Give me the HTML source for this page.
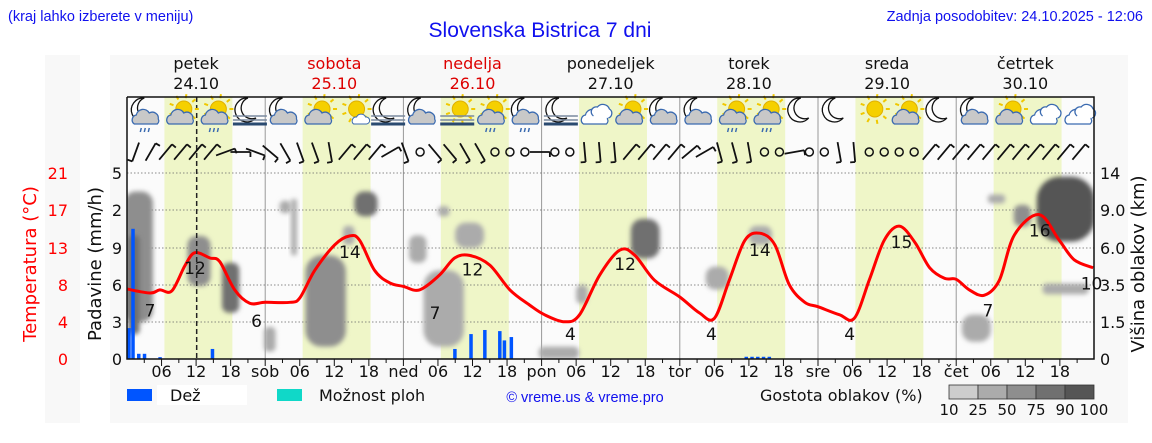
<!DOCTYPE html>
<html><head><meta charset="utf-8"><style>
body{margin:0;width:1152px;height:443px;background:#fff;overflow:hidden;font-family:"DejaVu Sans","Liberation Sans",sans-serif}
svg{position:absolute;left:0;top:0}
</style></head><body>
<svg id="c" width="1152" height="443" viewBox="0 0 1152 443">
<defs>
<filter id="bl" x="-50%" y="-50%" width="200%" height="200%"><feGaussianBlur stdDeviation="2.5"/></filter>
<clipPath id="pc"><rect x="127" y="150" width="967" height="209"/></clipPath>
</defs>
<rect x="45" y="55" width="35" height="368" fill="#f8f8f8"/>
<rect x="110" y="55" width="1018" height="368" fill="#f8f8f8"/>
<text x="8" y="21" font-family="Liberation Sans" font-size="14.5" fill="#1010ee">(kraj lahko izberete v meniju)</text>
<text x="540" y="37" text-anchor="middle" font-family="Liberation Sans" font-size="21" fill="#1010ee">Slovenska Bistrica 7 dni</text>
<text x="1143" y="21" text-anchor="end" font-family="Liberation Sans" font-size="14.5" fill="#1010ee">Zadnja posodobitev: 24.10.2025 - 12:06</text>
<rect x="127" y="97" width="967" height="262" fill="#fbfbfb"/>
<g id="bands"></g><g id="grid"></g><g id="clouds" clip-path="url(#pc)"></g><g id="rain"></g><g id="temp"></g><g id="icons"></g><g id="wind"></g><g id="axes"></g>
</svg>
<script>
const dayNames=["petek","sobota","nedelja","ponedeljek","torek","sreda","četrtek"];
const dayDates=["24.10","25.10","26.10","27.10","28.10","29.10","30.10"];
const dayAbbr=["","sob","ned","pon","tor","sre","čet"];
const tempHours=[0,4,5.7,7.8,10.1,11.8,14.4,16.1,18.7,21.3,24,28.3,30,32.6,36.1,38.7,40.4,43,45.6,48,50.8,54.3,56.9,59.5,63,66.5,69.9,72.5,76,78.6,82.1,85.6,88.2,91.6,96,99.4,102,104.6,107.3,109.9,112.5,115,117.7,120,123.7,126.3,128.9,131.5,134.1,136.8,139.4,142,144,146.3,148.9,151.5,154.1,158.4,161.9,164.5,167.8];
const tempValues=[7.9,7.45,7.8,7.7,10.6,12.0,11.4,11.0,7.8,6.3,6.4,6.4,6.9,10.0,12.9,13.9,13.4,10.0,8.6,8.2,7.8,9.5,11.4,11.7,10.6,7.8,6.1,5.0,4.2,5.0,9.5,12.3,11.7,8.9,7.0,5.2,4.6,8.9,13.4,14.2,12.9,8.4,6.4,5.9,5.0,4.6,8.9,13.4,15.0,13.2,10.3,9.1,9.0,7.8,7.2,8.9,14.0,16.3,13.4,11.2,10.3];
const labelHours=[4,11.8,22.5,38.7,53.5,60,77,86.5,101.5,109.9,125.5,134.5,149.5,158.5,167.5];
const labelTemps=["7","12","6","14","7","12","4","12","4","14","4","15","7","16","10"];
const labelYs=[5.5,10.3,4.3,12.1,5.2,10.1,2.8,10.7,2.8,12.3,2.8,13.2,5.5,14.5,8.5];
const rainHours=[0.3,1,2,3,5.7,14.8,56.9,59.7,62.1,64.7,65.5,66.7,107.5,108.5,109.5,110.5,111.5];
const rainValues=[0.83,3.5,0.14,0.14,0.05,0.27,0.27,0.67,0.78,0.75,0.5,0.59,0.06,0.06,0.06,0.06,0.06];
// clouds: centre hour, centre height km, width hours, thickness km, density %
const cloudHour=[2,1.2,12.5,18,24.8,27.5,29,34.5,41.5,38.5,50.5,55,59.5,55,75,79,90,102.5,110,147.5,151,155.5,163,163];
const cloudKm=[6.5,4,5.2,3.5,0.8,9.5,8,3,10,7,6,2.5,7,9,0.2,3,6.8,4,7,1.3,10.5,8.7,10,3.3];
const cloudW=[5,2,4,3,2,2,1,7,4,2,3,7,5,2,7,2,5,4,4,5,3,3,10,8];
const cloudT=[10,6,3.5,3,1,1.5,5,5,3,1.5,2,4,2,1,0.6,1,3,1.5,1.5,1.2,1.2,2,7,0.6];
const cloudD=[70,85,55,75,40,40,45,50,80,45,35,45,25,30,45,30,80,40,30,25,45,70,90,25];
const windDir=[200,30,40,40,40,40,70,90,110,130,150,160,160,170,40,40,40,60,160,-1,140,140,150,150,-1,-1,-1,90,-1,-1,175,175,175,40,40,40,40,50,60,165,165,170,-1,-1,80,-1,-1,170,175,-1,-1,-1,-1,40,40,40,40,40,40,40,40,40,40,40,40,40];
const iconTypes=["moonrain","suncloud","sunrain","moonfog","mooncloud","suncloud","sunsmall","moonfog","mooncloud","sunfog","sunrain","moonrain","moonfog","clouds","suncloud","mooncloud","mooncloud","sunrain","sunrain","moon","moon","sun","suncloud","moon","mooncloud","suncloud","clouds","clouds"];
const NS="http://www.w3.org/2000/svg";
const X0=127,DW=138.2,Y0=359;
const xh=h=>X0+h*DW/24;
const yT=t=>Y0-t*186/21;
const yR=r=>Y0-r*37.2;
const kmL=[0,1.5,3.5,6,9,14],kmY=[359,322,285,248,210,173];
function yK(k){for(let i=1;i<kmL.length;i++){if(k<=kmL[i])return kmY[i-1]+(k-kmL[i-1])/(kmL[i]-kmL[i-1])*(kmY[i]-kmY[i-1]);}return 173-(k-14)*7;}
function mk(p,t,a){const e=document.createElementNS(NS,t);for(const k in a)e.setAttribute(k,a[k]);p.appendChild(e);return e;}
const G=id=>document.getElementById(id);
for(let d=0;d<7;d++){
  const b=mk(G('bands'),'rect',{x:xh(d*24+6.5),y:97,width:xh(18.3)-xh(6.5),height:262,fill:'#eff6c8'});
  
  
  const red=(d==1||d==2);
  const n=mk(G('axes'),'text',{x:xh(d*24+12),y:69,'text-anchor':'middle','font-size':16,fill:red?'#dd0000':'#111'});n.textContent=dayNames[d];
  
  
  const dt=mk(G('axes'),'text',{x:xh(d*24+12),y:89,'text-anchor':'middle','font-size':16,fill:red?'#dd0000':'#111'});dt.textContent=dayDates[d];
  
  
  if(d>0){const l=mk(G('grid'),'line',{x1:xh(d*24),x2:xh(d*24),y1:97,y2:359,stroke:'#999','stroke-width':1});
    
    }
}
kmY.slice(1).forEach(y=>{const l=mk(G('grid'),'line',{x1:127,x2:1094,y1:y,y2:y,stroke:'#666','stroke-width':0.8,'stroke-dasharray':'1.5,2'});
  
  });
const shade=d=>d>=90?'#555':d>=75?'#707070':d>=50?'#8e8e8e':d>=25?'#ababab':'#cdcdcd';
for(let i=0;i<cloudHour.length;i++){
  const y1=yK(cloudKm[i]+cloudT[i]/2),y2=yK(Math.max(0,cloudKm[i]-cloudT[i]/2));
  const w=cloudW[i]*DW/24,h=Math.max(8,y2-y1);
  const e=mk(G('clouds'),'rect',{x:xh(cloudHour[i])-w/2,y:(y1+y2)/2-h/2,width:w,height:h,rx:Math.min(w,h)/2.5,fill:shade(cloudD[i]),filter:'url(#bl)'});
  
  
}
for(let i=0;i<rainHours.length;i++){
  const r=mk(G('rain'),'rect',{x:xh(rainHours[i])-1.5,y:yR(rainValues[i]),width:3.5,height:Y0-yR(rainValues[i]),fill:'#0055ff'});
  
  
}
const P=tempHours.map((h,i)=>[xh(h),yT(tempValues[i])]);
let dp='M'+P[0][0]+','+P[0][1];
for(let i=0;i<P.length-1;i++){const p0=P[Math.max(0,i-1)],p1=P[i],p2=P[i+1],p3=P[Math.min(P.length-1,i+2)];
  dp+=`C${(p1[0]+(p2[0]-p0[0])/6).toFixed(1)},${(p1[1]+(p2[1]-p0[1])/6).toFixed(1)} ${(p2[0]-(p3[0]-p1[0])/6).toFixed(1)},${(p2[1]-(p3[1]-p1[1])/6).toFixed(1)} ${p2[0].toFixed(1)},${p2[1].toFixed(1)}`;}
const tl=mk(G('temp'),'path',{d:dp,fill:'none',stroke:'#ff0000','stroke-width':3,'stroke-linejoin':'round'});


for(let i=0;i<labelHours.length;i++){
  const t=mk(G('temp'),'text',{x:xh(labelHours[i]),y:yT(labelYs[i])+6,'text-anchor':'middle','font-size':17,fill:'#111'});t.textContent=labelTemps[i];
  
  
}
const nl=mk(G('temp'),'line',{x1:xh(12.1),x2:xh(12.1),y1:97,y2:359,stroke:'#222','stroke-width':1.5,'stroke-dasharray':'5,3'});


function icon(t,cx){
  const g=mk(G('icons'),'g',{});
  
  
  const cy=112;
  if(t.startsWith('moon')){mk(g,'path',{d:`M${cx-2},${cy-14} a12,12 0 1,0 8,20 a10,10 0 0,1 -8,-20z`,fill:'#fff',stroke:'#111','stroke-width':1.3});}
  if(t.startsWith('sun')){mk(g,'circle',{cx:cx+3,cy:cy-3,r:8,fill:'#f5d000',stroke:'#e0b000'});
    for(let a=0;a<360;a+=40){const r=a*Math.PI/180;mk(g,'line',{x1:cx+3+11*Math.cos(r),y1:cy-3+11*Math.sin(r),x2:cx+3+15*Math.cos(r),y2:cy-3+15*Math.sin(r),stroke:'#f0c800','stroke-width':2});}}
  if(t.includes('cloud')||t.includes('rain')||t=='clouds'){mk(g,'path',{d:`M${cx-12},${cy+12} a5,5 0 0,1 2,-9 a7,7 0 0,1 13,-2 a6,6 0 0,1 9,6 a4,4 0 0,1 -1,5z`,fill:t=='clouds'?'#fff':'#c8c8c8',stroke:'#3a6ab0','stroke-width':1.3});}
  if(t=='clouds'){mk(g,'path',{d:`M${cx-2},${cy+4} a5,5 0 0,1 4,-9 a7,7 0 0,1 12,2 a5,5 0 0,1 -1,9`,fill:'#fff',stroke:'#3a6ab0','stroke-width':1.3});}
  if(t=='sunsmall'){mk(g,'path',{d:`M${cx},${cy+12} a4,4 0 0,1 3,-7 a5,5 0 0,1 9,0 a3,3 0 0,1 1,7z`,fill:'#fff',stroke:'#3a6ab0'});}
  if(t.includes('rain')){for(let k=0;k<3;k++)mk(g,'line',{x1:cx-5+k*4,y1:cy+16,x2:cx-6+k*4,y2:cy+20,stroke:'#3a6ab0','stroke-width':1.5});}
  if(t.includes('fog')){for(let k=0;k<3;k++)mk(g,'line',{x1:cx-17,x2:cx+17,y1:cy+4+k*4,y2:cy+4+k*4,stroke:k==2?'#2a4a70':'#7a8aa0','stroke-width':k==2?3:1.5});}
}
iconTypes.forEach((t,i)=>icon(t,xh(Math.floor(i/4)*24+3+(i%4)*6)+2));
windDir.forEach((a,i)=>{
  const cx=xh(i*2.6+1.5),cy=152;
  if(cx>1090)return;
  if(a<0){const c=mk(G('wind'),'circle',{cx:cx,cy:cy,r:4,fill:'none',stroke:'#111','stroke-width':1.5});
    
    return;}
  const r=a*Math.PI/180,dx=Math.sin(r)*10,dy=-Math.cos(r)*10;
  const l=mk(G('wind'),'path',{d:`M${cx-dx},${cy-dy}L${cx+dx},${cy+dy}M${cx+dx},${cy+dy}l${-dy*0.5},${dx*0.5}`,stroke:'#111','stroke-width':1.8,fill:'none'});
  
  
});
const A=G('axes');
mk(A,'path',{d:'M127,97V359H1094V97H127',fill:'none',stroke:'#111','stroke-width':1.5});
for(let h=3;h<168;h+=3){mk(A,'line',{x1:xh(h),x2:xh(h),y1:359,y2:h%6?363:366,stroke:'#111'});}
for(let d=0;d<7;d++){[0,6,12,18].forEach(hh=>{
  const lab=hh==0?dayAbbr[d]:(hh<10?'0':'')+hh;if(!lab)return;
  const t=mk(A,'text',{x:xh(d*24+hh),y:377,'text-anchor':'middle','font-size':16,fill:'#111'});t.textContent=lab;
  
  });}
const rainTicks=["0","3","6","9","2","5"],tempTicks=["0","4","8","13","17","21"],kmTicks=["0","1.5","3.5","6.0","9.0","14"];
kmY.forEach((y,i)=>{
  let t=mk(A,'text',{x:122,y:y+6,'text-anchor':'end','font-size':16,fill:'#111'});t.textContent=rainTicks[i];
  
  t=mk(A,'text',{x:68,y:y+6,'text-anchor':'end','font-size':16,fill:'#ff0000'});t.textContent=tempTicks[i];
  
  t=mk(A,'text',{x:1100,y:y+6,'font-size':16,fill:'#111'});t.textContent=kmTicks[i];
  
});
</script>
<svg width="1152" height="443" style="pointer-events:none">
<text transform="translate(36,264) rotate(-90)" text-anchor="middle" font-size="18" fill="#ff0000">Temperatura (°C)</text>
<text transform="translate(101,264) rotate(-90)" text-anchor="middle" font-size="18" fill="#111">Padavine (mm/h)</text>
<text transform="translate(1144,264) rotate(-90)" text-anchor="middle" font-size="18" fill="#111">Višina oblakov (km)</text>
<rect x="127" y="389" width="25" height="12" fill="#0055ff"/>
<rect x="157" y="385" width="90" height="20" fill="#fff"/>
<text x="170" y="401" font-size="16" fill="#111">Dež</text>
<rect x="277" y="389" width="25" height="12" fill="#10d8c8"/>
<text x="319" y="401" font-size="16" fill="#111">Možnost ploh</text>
<text x="585" y="402" text-anchor="middle" font-family="Liberation Sans" font-size="14.5" fill="#1010ee">© vreme.us &amp; vreme.pro</text>
<text x="760" y="401" font-size="16" fill="#111">Gostota oblakov (%)</text>
<g stroke="#333" stroke-width="0.8">
<rect x="949" y="385" width="29" height="14" fill="#cdcdcd"/><rect x="978" y="385" width="29" height="14" fill="#ababab"/><rect x="1007" y="385" width="29" height="14" fill="#8e8e8e"/><rect x="1036" y="385" width="29" height="14" fill="#707070"/><rect x="1065" y="385" width="29" height="14" fill="#555"/></g>
<g font-size="15" fill="#111" text-anchor="middle">
<text x="949" y="415">10</text><text x="978" y="415">25</text><text x="1007" y="415">50</text><text x="1036" y="415">75</text><text x="1065" y="415">90</text><text x="1094" y="415">100</text></g>
</svg>
</body></html>
